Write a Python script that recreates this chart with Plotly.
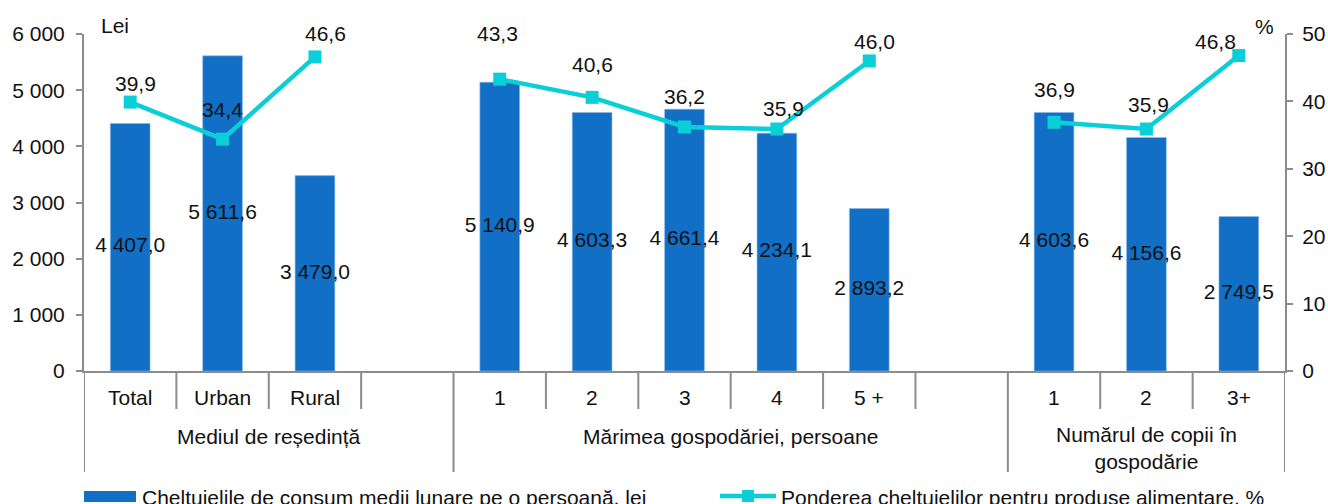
import plotly.graph_objects as go

# ---------------- data ----------------
categories = ["Total", "Urban", "Rural", "", "1", "2", "3", "4", "5 +", "", "1", "2", "3+"]
groups = ["Mediul de reședință", "Mărimea gospodăriei, persoane", "Numărul de copii în<br>gospodărie"]
group_sizes = [4, 6, 3]
cheltuieli = [4407.0, 5611.6, 3479.0, None, 5140.9, 4603.3, 4661.4, 4234.1, 2893.2, None, 4603.6, 4156.6, 2749.5]
ponderea = [39.9, 34.4, 46.6, None, 43.3, 40.6, 36.2, 35.9, 46.0, None, 36.9, 35.9, 46.8]
left_ticks = [0, 1000, 2000, 3000, 4000, 5000, 6000]
right_ticks = [0, 10, 20, 30, 40, 50]
bar_name = "Cheltuielile de consum medii lunare pe o persoană, lei"
line_name = "Ponderea cheltuielilor pentru produse alimentare, %"

# ---------------- style ----------------
FONT = "Liberation Sans, Arial, sans-serif"
FS = 21
TXT = "#111111"
BAR_C = "#116FC6"
LINE_C = "#0BCFD8"
AX_C = "#8C8C8C"
# per-point offsets (px) of the percentage labels relative to markers
line_label_yshift = [19, 30, 23, 0, 46, 33, 31, 21, 19, 0, 33, 25, 14]
line_label_xshift = [5, 0, 11, 0, -2, 0, 0, 7, 5, 0, 0, 2, -23]

W, H = 1328, 504
ML, MR, MT, MB = 84, 43, 34, 133
PH = H - MT - MB

def fmt(v):
    return f"{v:,.1f}".replace(",", " ").replace(".", ",")

def fmt_int(v):
    return f"{v:,d}".replace(",", " ")

xs = list(range(len(categories)))

fig = go.Figure()
fig.add_trace(go.Bar(
    x=xs, y=cheltuieli, width=0.43, marker=dict(color=BAR_C, line=dict(color="#8DBBE8", width=0.6)),
    name=bar_name, showlegend=False, yaxis="y",
))
# bar value labels at half height
bx = [x for x, v in zip(xs, cheltuieli) if v is not None]
bv = [v for v in cheltuieli if v is not None]
fig.add_trace(go.Scatter(
    x=bx, y=[v / 2 for v in bv], mode="text", text=[fmt(v) for v in bv],
    textfont=dict(family=FONT, size=FS, color=TXT), showlegend=False, hoverinfo="skip", yaxis="y",
))
fig.add_trace(go.Scatter(
    x=xs, y=ponderea, mode="lines+markers", connectgaps=False,
    line=dict(color=LINE_C, width=4.5), marker=dict(symbol="square", size=13, color=LINE_C),
    name=line_name, showlegend=False, yaxis="y2",
))

annotations = []
# line labels
for x, v, s, t in zip(xs, ponderea, line_label_yshift, line_label_xshift):
    if v is None:
        continue
    annotations.append(dict(x=x, y=v, xref="x", yref="y2", text=fmt(v), showarrow=False,
                            yshift=s, xshift=t, yanchor="middle",
                            font=dict(family=FONT, size=FS, color=TXT)))
# category labels
for x, c in zip(xs, categories):
    if c:
        annotations.append(dict(x=x, y=0, xref="x", yref="paper", text=c, showarrow=False,
                                yshift=-26, yanchor="middle", font=dict(family=FONT, size=FS, color=TXT)))
# group labels
start = -0.5
bounds = [start]
for g, n in zip(groups, group_sizes):
    center = start + n / 2
    shift = -77 if "<br>" in g else -65
    annotations.append(dict(x=center, y=0, xref="x", yref="paper", text=g, showarrow=False,
                            yshift=shift, yanchor="middle", font=dict(family=FONT, size=FS, color=TXT)))
    start += n
    bounds.append(start)

pw = W - ML - MR
def px2x(p):
    return (p - ML) / pw
def py2y(p):
    return (H - MB - p) / PH

# axis unit labels
annotations.append(dict(x=px2x(99), y=py2y(25), xref="paper", yref="paper",
                        text="Lei", showarrow=False, xanchor="left", yanchor="middle",
                        font=dict(family=FONT, size=FS, color=TXT)))
annotations.append(dict(x=px2x(1264), y=py2y(26), xref="paper", yref="paper",
                        text="%", showarrow=False, xanchor="center", yanchor="middle",
                        font=dict(family=FONT, size=FS, color=TXT)))

shapes = []
cat_depth = -38 / PH
grp_depth = -101 / PH
for k in range(len(categories) + 1):
    xb = k - 0.5
    deep = xb in bounds
    shapes.append(dict(type="line", xref="x", yref="paper", x0=xb, x1=xb, y0=0,
                       y1=grp_depth if deep else cat_depth, line=dict(color=AX_C, width=2)))

# custom legend (bottom)
shapes.append(dict(type="rect", xref="paper", yref="paper", x0=px2x(84), x1=px2x(136),
                   y0=py2y(502), y1=py2y(491), fillcolor=BAR_C, line=dict(width=0)))
shapes.append(dict(type="line", xref="paper", yref="paper", x0=px2x(720), x1=px2x(776),
                   y0=py2y(496), y1=py2y(496), line=dict(color=LINE_C, width=4.5)))
shapes.append(dict(type="rect", xref="paper", yref="paper", x0=px2x(742), x1=px2x(754),
                   y0=py2y(502), y1=py2y(490), fillcolor=LINE_C, line=dict(width=0)))
annotations.append(dict(x=px2x(140), y=py2y(497), xref="paper", yref="paper", text=bar_name,
                        showarrow=False, xanchor="left", yanchor="middle",
                        font=dict(family=FONT, size=FS, color=TXT)))
annotations.append(dict(x=px2x(779), y=py2y(497), xref="paper", yref="paper", text=line_name,
                        showarrow=False, xanchor="left", yanchor="middle",
                        font=dict(family=FONT, size=FS, color=TXT)))

fig.update_layout(
    width=W, height=H, margin=dict(l=ML, r=MR, t=MT, b=MB, autoexpand=False),
    paper_bgcolor="white", plot_bgcolor="white", showlegend=False,
    font=dict(family=FONT, size=FS, color=TXT),
    xaxis=dict(range=[-0.5, len(categories) - 0.5], showticklabels=False, ticks="",
               showgrid=False, zeroline=False, showline=True, linecolor=AX_C, linewidth=2),
    yaxis=dict(range=[0, 6000], tickvals=left_ticks, ticktext=[fmt_int(v) for v in left_ticks],
               showgrid=False, zeroline=False, showline=True, linecolor=AX_C, linewidth=2,
               ticks="outside", ticklen=6, tickwidth=2, tickcolor=AX_C, ticklabelstandoff=7,
               automargin=False, tickfont=dict(family=FONT, size=FS, color=TXT)),
    yaxis2=dict(range=[0, 50], tickvals=right_ticks, overlaying="y", side="right",
                showgrid=False, zeroline=False, showline=True, linecolor=AX_C, linewidth=2,
                ticks="outside", ticklen=6, tickwidth=2, tickcolor=AX_C, ticklabelstandoff=5,
                automargin=False, tickfont=dict(family=FONT, size=FS, color=TXT)),
    annotations=annotations, shapes=shapes,
)

fig.write_html(
    "out.html",
    config={"displayModeBar": False},
    post_script="document.body.style.margin='0';document.body.style.overflow='hidden';",
)
